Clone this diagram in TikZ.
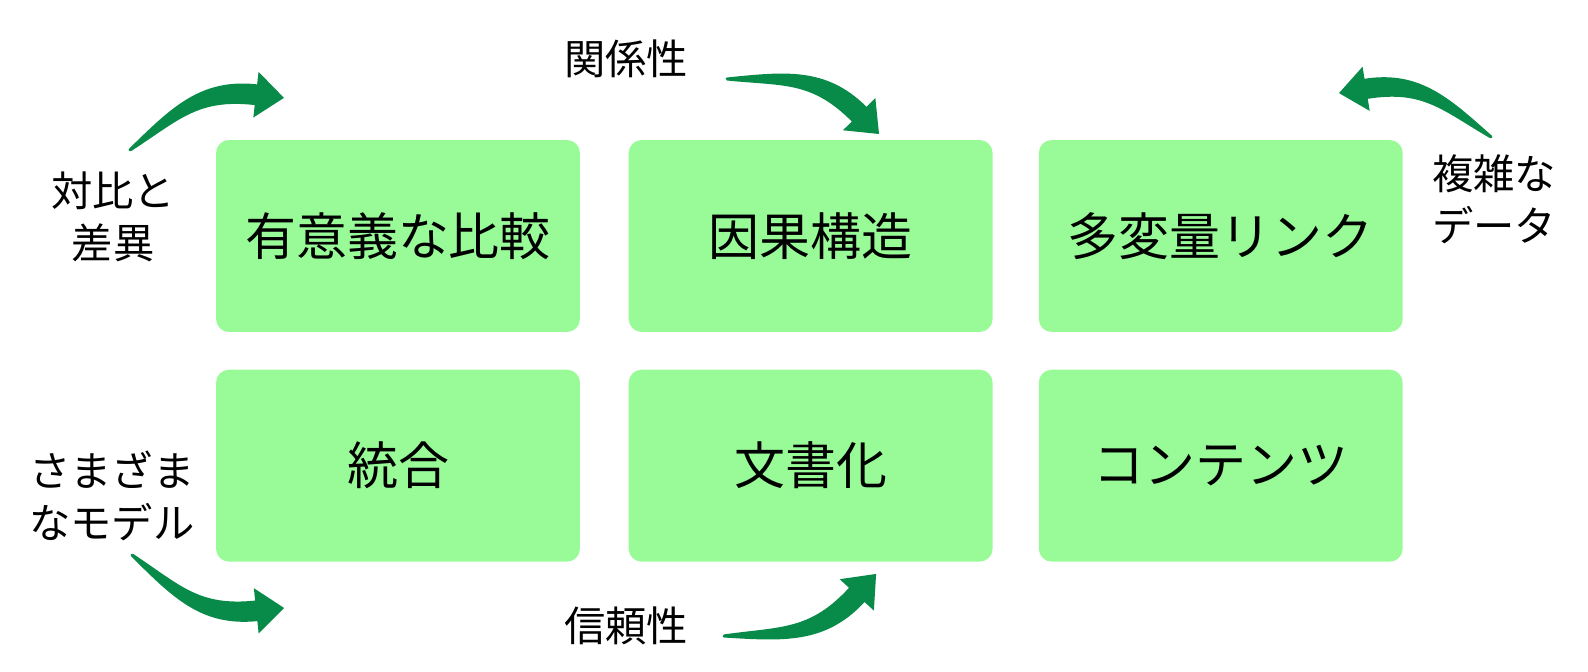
\documentclass[tikz,border=0pt]{standalone}
\usepackage{fontspec}
\setmainfont{Noto Sans CJK JP}
\usetikzlibrary{positioning}
\definecolor{cTileFill}{RGB}{152,251,152}
\definecolor{cArrow}{RGB}{8,138,72}
\tikzset{
    tile/.style={rectangle, rounded corners=0.26cm, fill=cTileFill,
        minimum width=7.28cm, minimum height=3.84cm, inner sep=0pt,
        font=\fontsize{29}{34}\selectfont, align=center},
    side/.style={font=\fontsize{23.5}{29.5}\selectfont, align=center,
        inner sep=0pt},
    % tapered bent arrow, tail at (0,0), tip at about (155.7,3.0)
    bentarrow/.pic={
        \fill[cArrow, line join=round]
            (-0.5,1.4) .. controls (48.9,26.2) and (84.8,45.5) .. (135.1,23.1)
            -- (140.0,34.1) -- (155.7,3.0) -- (122.0,-6.1) -- (126.9,4.9)
            .. controls (76.6,27.3) and (53.9,13.2) .. (0.5,-1.4)
            .. controls (-1.5,-1.2) and (-2.2,0.9) .. (-0.5,1.4) -- cycle;
    },
}

\begin{document}
\begin{tikzpicture}[x=0.02cm, y=0.02cm]
\useasboundingbox (0,0) rectangle (1588,672);

% ================================================================
%  TILES — two rows of three
% ================================================================
\node[tile] (compare) at (398,436) {有意義な比較};
\node[tile, right=0.96cm of compare] (causal) {因果構造};
\node[tile, right=0.91cm of causal] (multivar) {多変量リンク};

\node[tile, below=0.74cm of compare] (integ) {統合};
\node[tile, right=0.96cm of integ] (doc) {文書化};
\node[tile, right=0.91cm of doc] (content) {コンテンツ};

% ================================================================
%  SIDE LABELS
% ================================================================
\node[side] (lcontrast) at (113,455) {対比と\\差異};
\node[side] (lrelation) at (626,613) {関係性};
\node[side] (lcomplex) at (1494,473) {複雑な\\データ};
\node[side] (lmodels) at (112,176) {さまざま\\なモデル};
\node[side] (ltrust) at (626,46) {信頼性};

% ================================================================
%  BENT ARROWS (tail coordinates)
% ================================================================
\coordinate (t1) at (130,522);
\coordinate (t2) at (727,593);
\coordinate (t3) at (1491,535);
\coordinate (t4) at (132,117);
\coordinate (t5) at (724,36);

\pic[rotate=17.6, scale=1.044] at (t1) {bentarrow};
\pic[rotate=-21.0, scale=1.038] at (t2) {bentarrow};
\pic[rotate=165.0, yscale=-1, scale=1.016] at (t3) {bentarrow};
\pic[rotate=-18.1, yscale=-1, scale=1.034] at (t4) {bentarrow};
\pic[rotate=23.3, yscale=-1, scale=1.055] at (t5) {bentarrow};

\end{tikzpicture}
\end{document}
